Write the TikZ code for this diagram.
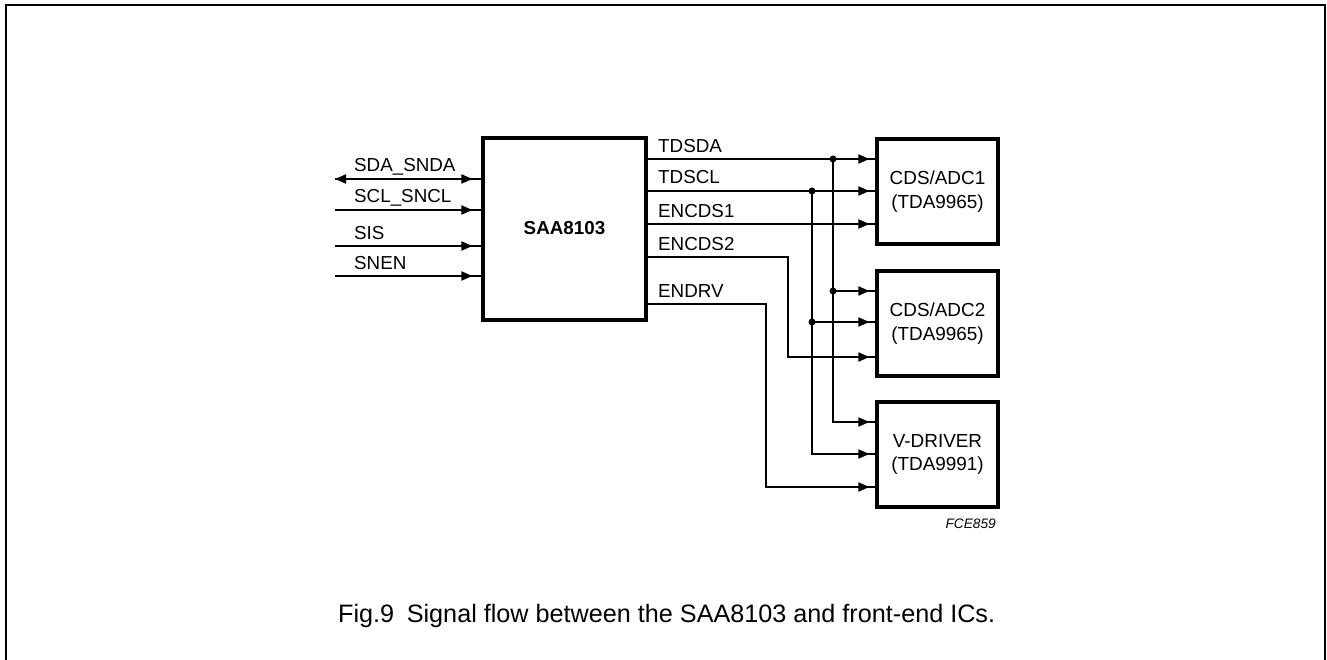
\documentclass[tikz,border=0pt]{standalone}
\usepackage{fontspec}
\setmainfont{Liberation Sans}
\usetikzlibrary{arrows.meta}
\begin{document}
\begin{tikzpicture}[x=1pt,y=-1pt,
  box/.style={draw,line width=3.2pt,inner sep=0pt,align=center,font=\fontsize{18.9}{23.5}\selectfont},
  sig/.style={line width=1.9pt},
  tipA/.style={-{Triangle[length=11pt,width=9pt]}},
  arr/.style={postaction={draw,line width=1.9pt,tipA,shorten >=6pt}},
  arrl/.style={postaction={draw,line width=1.9pt,tipA,shorten >=9pt}},
  arrb/.style={postaction={draw,line width=1.9pt,{Triangle[length=11pt,width=9pt]}-{Triangle[length=11pt,width=9pt]},shorten >=9pt}},
  lbl/.style={anchor=base west,inner sep=0pt,font=\fontsize{18.8}{22}\selectfont},
  jdot/.style={circle,fill,inner sep=0pt,minimum size=7pt}]
\useasboundingbox (0,0) rectangle (1327,660);
\draw[line width=2.4pt] (6,670) -- (6,5) -- (1325,5) -- (1325,670);

% blocks
\node[box,minimum width=163pt,minimum height=182pt] (saa) at (564.5,229) {};
\node[anchor=base,inner sep=0pt,font=\fontsize{18.8}{22}\selectfont\bfseries] (saalbl) at (564.5,235) {SAA8103};
\node[box,minimum width=121pt,minimum height=105pt] (adc1) at (937.5,191.5) {CDS/ADC1\\(TDA9965)};
\node[box,minimum width=121pt,minimum height=105pt] (adc2) at (937.5,323.5) {CDS/ADC2\\(TDA9965)};
\node[box,minimum width=121pt,minimum height=105pt] (vdrv) at (937.5,454.5) {V-DRIVER\\(TDA9991)};

% levels
\coordinate (l1) at (335,179);
\coordinate (l2) at (335,210);
\coordinate (l3) at (335,246);
\coordinate (l4) at (335,276);
\coordinate (r1) at (0,159);
\coordinate (r2) at (0,191);
\coordinate (r3) at (0,224);
\coordinate (r4) at (0,257);
\coordinate (r5) at (0,304);
\coordinate (a1) at (0,291);
\coordinate (a2) at (0,322);
\coordinate (a3) at (0,357);
\coordinate (v1) at (0,422);
\coordinate (v2) at (0,454);
\coordinate (v3) at (0,487);
\coordinate (bA) at (833,0);
\coordinate (bB) at (812,0);
\coordinate (bC) at (788,0);
\coordinate (bD) at (766,0);

% left signals
\draw[sig,arrb] (l1) -- (saa.west |- l1);
\draw[sig,arrl] (l2) -- (saa.west |- l2);
\draw[sig,arrl] (l3) -- (saa.west |- l3);
\draw[sig,arrl] (l4) -- (saa.west |- l4);
\node[lbl] (t1) at (354,171.7) {SDA\_SNDA};
\node[lbl] (t2) at (354,202.7) {SCL\_SNCL};
\node[lbl] (t3) at (354,240) {SIS};
\node[lbl] (t4) at (354,269.3) {SNEN};

% right signals
\draw[sig,arr] (saa.east |- r1) -- (adc1.west |- r1);
\draw[sig,arr] (saa.east |- r2) -- (adc1.west |- r2);
\draw[sig,arr] (saa.east |- r3) -- (adc1.west |- r3);
\draw[sig,arr] (bA |- r1) -- (bA |- v1) -- (vdrv.west |- v1);
\draw[sig,arr] (bA |- a1) -- (adc2.west |- a1);
\draw[sig,arr] (bB |- r2) -- (bB |- v2) -- (vdrv.west |- v2);
\draw[sig,arr] (bB |- a2) -- (adc2.west |- a2);
\draw[sig,arr] (saa.east |- r4) -| (bC |- a3) -- (adc2.west |- a3);
\draw[sig,arr] (saa.east |- r5) -| (bD |- v3) -- (vdrv.west |- v3);
\node[jdot] (d1) at (bA |- r1) {};
\node[jdot] (d2) at (bB |- r2) {};
\node[jdot] (d3) at (bA |- a1) {};
\node[jdot] (d4) at (bB |- a2) {};

\node[lbl] (s1) at (658,152.7) {TDSDA};
\node[lbl] (s2) at (658,184) {TDSCL};
\node[lbl] (s3) at (658,217.7) {ENCDS1};
\node[lbl] (s4) at (658,250.7) {ENCDS2};
\node[lbl] (s5) at (658,297.7) {ENDRV};

\node[anchor=base east,inner sep=0pt,font=\fontsize{13.7}{16}\selectfont\itshape] (fce) at (996,528) {FCE859};
\node[anchor=base west,inner sep=0pt,font=\fontsize{25.2}{30}\selectfont] (cap) at (338,622.7) {Fig.9\hspace{0.5em}Signal flow between the SAA8103 and front-end ICs.};
\end{tikzpicture}
\end{document}
